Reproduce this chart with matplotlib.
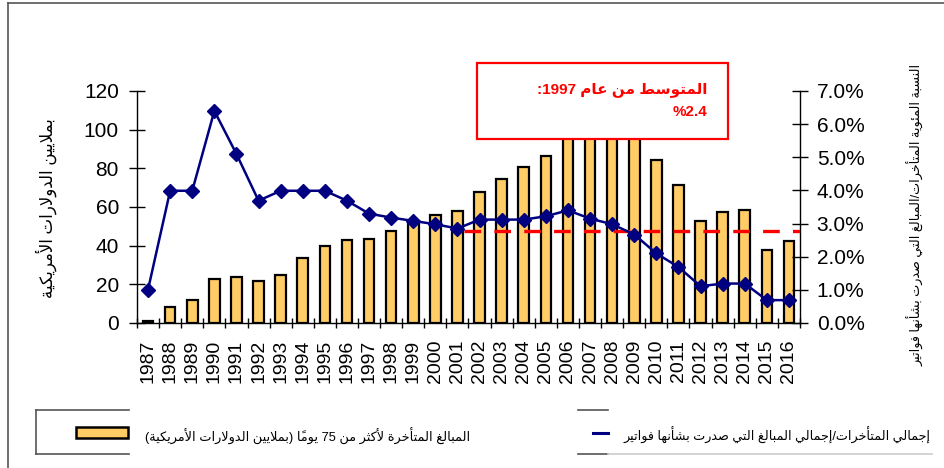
import matplotlib
matplotlib.use('Agg')
import matplotlib.pyplot as plt
from matplotlib.ticker import PercentFormatter, FixedLocator
from matplotlib.patches import Rectangle
from matplotlib.lines import Line2D

plt.rcParams['font.family'] = ['Liberation Sans', 'DejaVu Sans']
plt.rcParams['lines.scale_dashes'] = False

# data
years = ['1987', '1988', '1989', '1990', '1991', '1992', '1993', '1994', '1995', '1996',
         '1997', '1998', '1999', '2000', '2001', '2002', '2003', '2004', '2005', '2006',
         '2007', '2008', '2009', '2010', '2011', '2012', '2013', '2014', '2015', '2016']
# arrears over 75 days, millions of US dollars
arrears = [1.2, 8.1, 11.9, 22.6, 23.6, 21.6, 24.8, 33.5, 39.8, 42.9,
           43.3, 47.8, 51.9, 55.9, 57.8, 67.9, 74.3, 80.9, 86.4, 98.0,
           101.0, 104.0, 99.0, 84.3, 71.2, 52.8, 57.4, 58.5, 37.8, 42.6]
# arrears / total billed, percent
ratio = [1.01, 3.99, 3.99, 6.40, 5.10, 3.69, 3.99, 3.99, 3.99, 3.69,
         3.30, 3.18, 3.08, 2.98, 2.85, 3.12, 3.12, 3.12, 3.22, 3.40,
         3.15, 2.98, 2.67, 2.10, 1.69, 1.11, 1.19, 1.19, 0.69, 0.69]
avg_ratio = 2.77
avg_from = '2001'

left_label = 'بملايين الدولارات الأمريكية'
right_label = 'النسبة المئوية المتأخرات/المبالغ التي صدرت بشأنها فواتير'
box_line1 = 'المتوسط من عام 1997:'
box_line2 = '2.4%'
legend_bars = 'المبالغ المتأخرة لأكثر من 75 يوماً (بملايين الدولارات الأمريكية)'
legend_line = 'إجمالي المتأخرات/إجمالي المبالغ التي صدرت بشأنها فواتير'

# --- minimal Arabic shaping + right-to-left ordering (matplotlib has none) ---
# letter: (isolated, final, initial, medial)
FORMS = {
    '\u0621': ('\uFE80', None, None, None),
    '\u0622': ('\uFE81', '\uFE82', None, None),
    '\u0623': ('\uFE83', '\uFE84', None, None),
    '\u0624': ('\uFE85', '\uFE86', None, None),
    '\u0625': ('\uFE87', '\uFE88', None, None),
    '\u0626': ('\uFE89', '\uFE8A', '\uFE8B', '\uFE8C'),
    '\u0627': ('\uFE8D', '\uFE8E', None, None),
    '\u0628': ('\uFE8F', '\uFE90', '\uFE91', '\uFE92'),
    '\u0629': ('\uFE93', '\uFE94', None, None),
    '\u062A': ('\uFE95', '\uFE96', '\uFE97', '\uFE98'),
    '\u062B': ('\uFE99', '\uFE9A', '\uFE9B', '\uFE9C'),
    '\u062C': ('\uFE9D', '\uFE9E', '\uFE9F', '\uFEA0'),
    '\u062D': ('\uFEA1', '\uFEA2', '\uFEA3', '\uFEA4'),
    '\u062E': ('\uFEA5', '\uFEA6', '\uFEA7', '\uFEA8'),
    '\u062F': ('\uFEA9', '\uFEAA', None, None),
    '\u0630': ('\uFEAB', '\uFEAC', None, None),
    '\u0631': ('\uFEAD', '\uFEAE', None, None),
    '\u0632': ('\uFEAF', '\uFEB0', None, None),
    '\u0633': ('\uFEB1', '\uFEB2', '\uFEB3', '\uFEB4'),
    '\u0634': ('\uFEB5', '\uFEB6', '\uFEB7', '\uFEB8'),
    '\u0635': ('\uFEB9', '\uFEBA', '\uFEBB', '\uFEBC'),
    '\u0636': ('\uFEBD', '\uFEBE', '\uFEBF', '\uFEC0'),
    '\u0637': ('\uFEC1', '\uFEC2', '\uFEC3', '\uFEC4'),
    '\u0638': ('\uFEC5', '\uFEC6', '\uFEC7', '\uFEC8'),
    '\u0639': ('\uFEC9', '\uFECA', '\uFECB', '\uFECC'),
    '\u063A': ('\uFECD', '\uFECE', '\uFECF', '\uFED0'),
    '\u0641': ('\uFED1', '\uFED2', '\uFED3', '\uFED4'),
    '\u0642': ('\uFED5', '\uFED6', '\uFED7', '\uFED8'),
    '\u0643': ('\uFED9', '\uFEDA', '\uFEDB', '\uFEDC'),
    '\u0644': ('\uFEDD', '\uFEDE', '\uFEDF', '\uFEE0'),
    '\u0645': ('\uFEE1', '\uFEE2', '\uFEE3', '\uFEE4'),
    '\u0646': ('\uFEE5', '\uFEE6', '\uFEE7', '\uFEE8'),
    '\u0647': ('\uFEE9', '\uFEEA', '\uFEEB', '\uFEEC'),
    '\u0648': ('\uFEED', '\uFEEE', None, None),
    '\u0649': ('\uFEEF', '\uFEF0', None, None),
    '\u064A': ('\uFEF1', '\uFEF2', '\uFEF3', '\uFEF4'),
}
LAM_ALEF = {
    '\u0622': ('\uFEF5', '\uFEF6'),
    '\u0623': ('\uFEF7', '\uFEF8'),
    '\u0625': ('\uFEF9', '\uFEFA'),
    '\u0627': ('\uFEFB', '\uFEFC'),
}
MARKS = set(chr(c) for c in range(0x064B, 0x0653))
MIRROR = {'(': ')', ')': '('}


def arabic(text):
    chars = list(text)
    n = len(chars)

    def neighbour(i, step):
        j = i + step
        while 0 <= j < n and chars[j] in MARKS:
            j += step
        return j if 0 <= j < n else None

    shaped = []
    i = 0
    while i < n:
        c = chars[i]
        if c not in FORMS:
            shaped.append(c)
            i += 1
            continue
        p = neighbour(i, -1)
        nx = neighbour(i, 1)
        joins_prev = p is not None and chars[p] in FORMS and FORMS[chars[p]][2] is not None
        if c == '\u0644' and nx is not None and chars[nx] in LAM_ALEF:
            iso, fin = LAM_ALEF[chars[nx]]
            shaped.append(fin if joins_prev else iso)
            i = nx + 1
            continue
        joins_next = (FORMS[c][2] is not None and nx is not None
                      and chars[nx] in FORMS and FORMS[chars[nx]][1] is not None)
        iso, fin, ini, med = FORMS[c]
        if joins_prev and joins_next:
            shaped.append(med)
        elif joins_prev:
            shaped.append(fin)
        elif joins_next:
            shaped.append(ini)
        else:
            shaped.append(iso)
        i += 1

    # clusters: base glyph + its marks
    clusters = []
    for g in shaped:
        if g in MARKS and clusters:
            clusters[-1] += g
        else:
            clusters.append(g)

    # runs: digits stay left-to-right, the rest is reversed
    runs = []
    for k, cl in enumerate(clusters):
        is_num = cl.isdigit() or (cl == '.' and 0 < k < len(clusters) - 1
                                  and clusters[k - 1].isdigit() and clusters[k + 1].isdigit())
        if runs and runs[-1][0] == is_num and is_num:
            runs[-1][1].append(cl)
        else:
            runs.append((is_num, [cl]))
    out = []
    for is_num, cls in reversed(runs):
        if is_num:
            out.extend(cls)
        else:
            out.extend(MIRROR.get(cl, cl) for cl in reversed(cls))
    return ''.join(out)


def draw_chart():
    W, H = 945, 468
    fig = plt.figure(figsize=(W / 100, H / 100), dpi=100)
    fig.patch.set_facecolor('white')

    # plot area in pixels: x 137..800, y 91..323
    ax = fig.add_axes([137 / W, 1 - 323 / H, (800 - 137) / W, (323 - 91) / H])
    ax2 = ax.twinx()

    x = list(range(len(years)))
    ax.bar(x, arrears, width=0.48, color='#FFCC66', edgecolor='black', linewidth=1.6, zorder=2)
    ax.set_xlim(-0.5, len(years) - 0.5)
    ax.set_ylim(0, 120)
    ax.set_yticks([0, 20, 40, 60, 80, 100, 120])

    ax2.plot(x, ratio, color='#000080', linewidth=1.8, marker='D', markersize=7.5,
             markerfacecolor='#000080', markeredgecolor='#000080', zorder=4)
    start = years.index(avg_from) + 0.3
    ax2.plot([start, len(years) - 0.5], [avg_ratio, avg_ratio], color='red',
             linewidth=2.4, dashes=(12, 9.5), zorder=3)
    ax2.set_ylim(0, 7)
    ax2.set_yticks([0, 1, 2, 3, 4, 5, 6, 7])
    ax2.yaxis.set_major_formatter(PercentFormatter(xmax=100, decimals=1))
    ax2.set_xlim(-0.5, len(years) - 0.5)

    for a in (ax, ax2):
        a.spines['top'].set_visible(False)
        for s in ('left', 'right', 'bottom'):
            a.spines[s].set_linewidth(1.0)
            a.spines[s].set_color('black')
    ax.spines['right'].set_visible(False)
    ax2.spines['left'].set_visible(False)
    ax2.spines['bottom'].set_visible(False)

    ax.set_xticks(x)
    ax.set_xticklabels(years, rotation=90, fontsize=14)
    ax.xaxis.set_minor_locator(FixedLocator([i - 0.5 for i in range(len(years) + 1)]))
    ax.tick_params(axis='x', which='major', length=0, pad=12)
    ax.tick_params(axis='x', which='minor', direction='inout', length=7, width=1)
    ax.tick_params(axis='y', direction='inout', length=12, width=1, labelsize=15, pad=7)
    ax2.tick_params(axis='y', direction='inout', length=12, width=1, labelsize=15, pad=6)

    fig.text(46 / W, 1 - 208 / H, arabic(left_label), rotation=90, fontsize=12,
             ha='center', va='center')
    fig.text(916 / W, 1 - 215 / H, arabic(right_label), rotation=90, fontsize=9.2,
             ha='center', va='center')

    # annotation box for the average
    fig.patches.append(Rectangle((477 / W, 1 - 139 / H), (728 - 477) / W, (139 - 63) / H,
                                 transform=fig.transFigure, facecolor='white',
                                 edgecolor='red', linewidth=1.6, zorder=10))
    fig.text(707 / W, 1 - 90 / H, arabic(box_line1), color='red', fontsize=11,
             fontweight='bold', ha='right', va='center', zorder=11)
    fig.text(707 / W, 1 - 112 / H, arabic(box_line2), color='red', fontsize=11,
             fontweight='bold', ha='right', va='center', zorder=11)

    # legend, drawn by hand like the Excel original
    grey = '#555555'
    for (x0, y0, x1, y1, c) in [(36, 410, 129, 410, grey), (36, 454, 129, 454, grey),
                                (36, 410, 36, 454, grey), (578, 410, 608, 410, grey),
                                (578, 454, 608, 454, grey), (608, 454, 932, 454, '#cccccc')]:
        fig.lines.append(Line2D([x0 / W, x1 / W], [1 - y0 / H, 1 - y1 / H],
                                transform=fig.transFigure, color=c, linewidth=1.2))
    fig.patches.append(Rectangle((76 / W, 1 - 438 / H), 52 / W, 11 / H,
                                 transform=fig.transFigure, facecolor='#FFCC66',
                                 edgecolor='black', linewidth=1.8))
    fig.text(470 / W, 1 - 436 / H, arabic(legend_bars), fontsize=9.3, ha='right', va='center')
    fig.lines.append(Line2D([593 / W, 608 / W], [1 - 433 / H, 1 - 433 / H],
                            transform=fig.transFigure, color='#000080', linewidth=2.2))
    fig.text(931 / W, 1 - 435 / H, arabic(legend_line), fontsize=9.2, ha='right', va='center')

    # outer frame of the original chart area
    fig.lines.append(Line2D([8 / W, 8 / W], [0, 1 - 3 / H], transform=fig.transFigure,
                            color=grey, linewidth=1.2))
    fig.lines.append(Line2D([8 / W, 1], [1 - 3 / H, 1 - 3 / H], transform=fig.transFigure,
                            color=grey, linewidth=1.2))

    fig.savefig('out.png', dpi=100)
    plt.close(fig)


if __name__ == '__main__':
    draw_chart()
